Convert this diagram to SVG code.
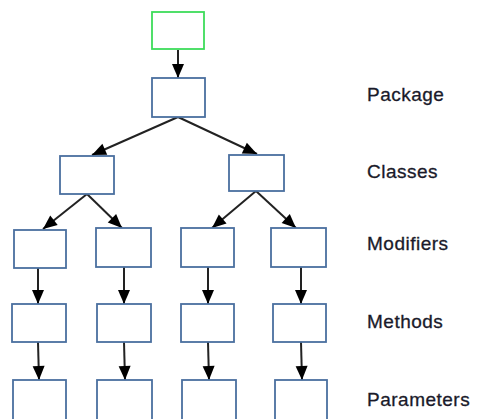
<svg xmlns="http://www.w3.org/2000/svg" width="477" height="419" viewBox="0 0 477 419">
<style>
.box{fill:#fff;stroke:#4a6f9f;stroke-width:1.8}
.root{fill:#fff;stroke:#3ddc5a;stroke-width:1.8}
.c{stroke:#222;stroke-width:2;fill:none;marker-end:url(#ah)}
.lbl{font-family:"Liberation Sans",Arial,sans-serif;font-size:19px;letter-spacing:0.5px;fill:#1a1a2a;stroke:#1a1a2a;stroke-width:0.3}
</style>
<defs>
<marker id="ah" markerUnits="userSpaceOnUse" markerWidth="16" markerHeight="16" viewBox="0 0 16 16" refX="15" refY="8" orient="auto">
<path d="M1,2 L15,8 L1,14 Z" fill="#000"/>
</marker>
</defs>
<rect width="477" height="419" fill="#fff"/>
<g id="connectors">
<line class="c" x1="178" y1="50" x2="178" y2="78"/>
<line class="c" x1="178" y1="117" x2="92" y2="155"/>
<line class="c" x1="178" y1="117" x2="257" y2="154"/>
<line class="c" x1="87" y1="194" x2="43" y2="229"/>
<line class="c" x1="87" y1="194" x2="122" y2="228"/>
<line class="c" x1="256" y1="191" x2="212" y2="228"/>
<line class="c" x1="256" y1="191" x2="296" y2="228"/>
<line class="c" x1="38" y1="268" x2="38" y2="304"/>
<line class="c" x1="124" y1="267" x2="124" y2="304"/>
<line class="c" x1="208" y1="267" x2="208" y2="304"/>
<line class="c" x1="301" y1="267" x2="301" y2="304"/>
<line class="c" x1="38" y1="342" x2="39" y2="380"/>
<line class="c" x1="124" y1="342" x2="125" y2="380"/>
<line class="c" x1="208" y1="342" x2="209" y2="380"/>
<line class="c" x1="301" y1="342" x2="302" y2="380"/>
</g>
<g id="root"><rect class="root" x="152" y="12" width="52" height="37"/></g>
<g id="package"><rect class="box" x="152" y="78" width="53" height="39"/></g>
<g id="class1"><rect class="box" x="60" y="156" width="54" height="38"/></g>
<g id="class2"><rect class="box" x="229" y="155" width="55" height="36"/></g>
<g id="mod1"><rect class="box" x="14" y="230" width="52" height="38"/></g>
<g id="mod2"><rect class="box" x="96" y="228" width="55" height="39"/></g>
<g id="mod3"><rect class="box" x="181" y="228" width="53" height="39"/></g>
<g id="mod4"><rect class="box" x="271" y="228" width="55" height="39"/></g>
<g id="meth1"><rect class="box" x="12" y="304" width="54" height="38"/></g>
<g id="meth2"><rect class="box" x="97" y="304" width="54" height="38"/></g>
<g id="meth3"><rect class="box" x="181" y="304" width="53" height="38"/></g>
<g id="meth4"><rect class="box" x="273" y="304" width="53" height="38"/></g>
<g id="param1"><rect class="box" x="13" y="380" width="53" height="45"/></g>
<g id="param2"><rect class="box" x="97" y="380" width="55" height="45"/></g>
<g id="param3"><rect class="box" x="182" y="380" width="54" height="45"/></g>
<g id="param4"><rect class="box" x="275" y="380" width="52" height="45"/></g>
<g id="labels">
<text class="lbl" x="367" y="101">Package</text>
<text class="lbl" x="367" y="178">Classes</text>
<text class="lbl" x="367" y="250">Modifiers</text>
<text class="lbl" x="367" y="328">Methods</text>
<text class="lbl" x="367" y="406">Parameters</text>
</g>
</svg>
